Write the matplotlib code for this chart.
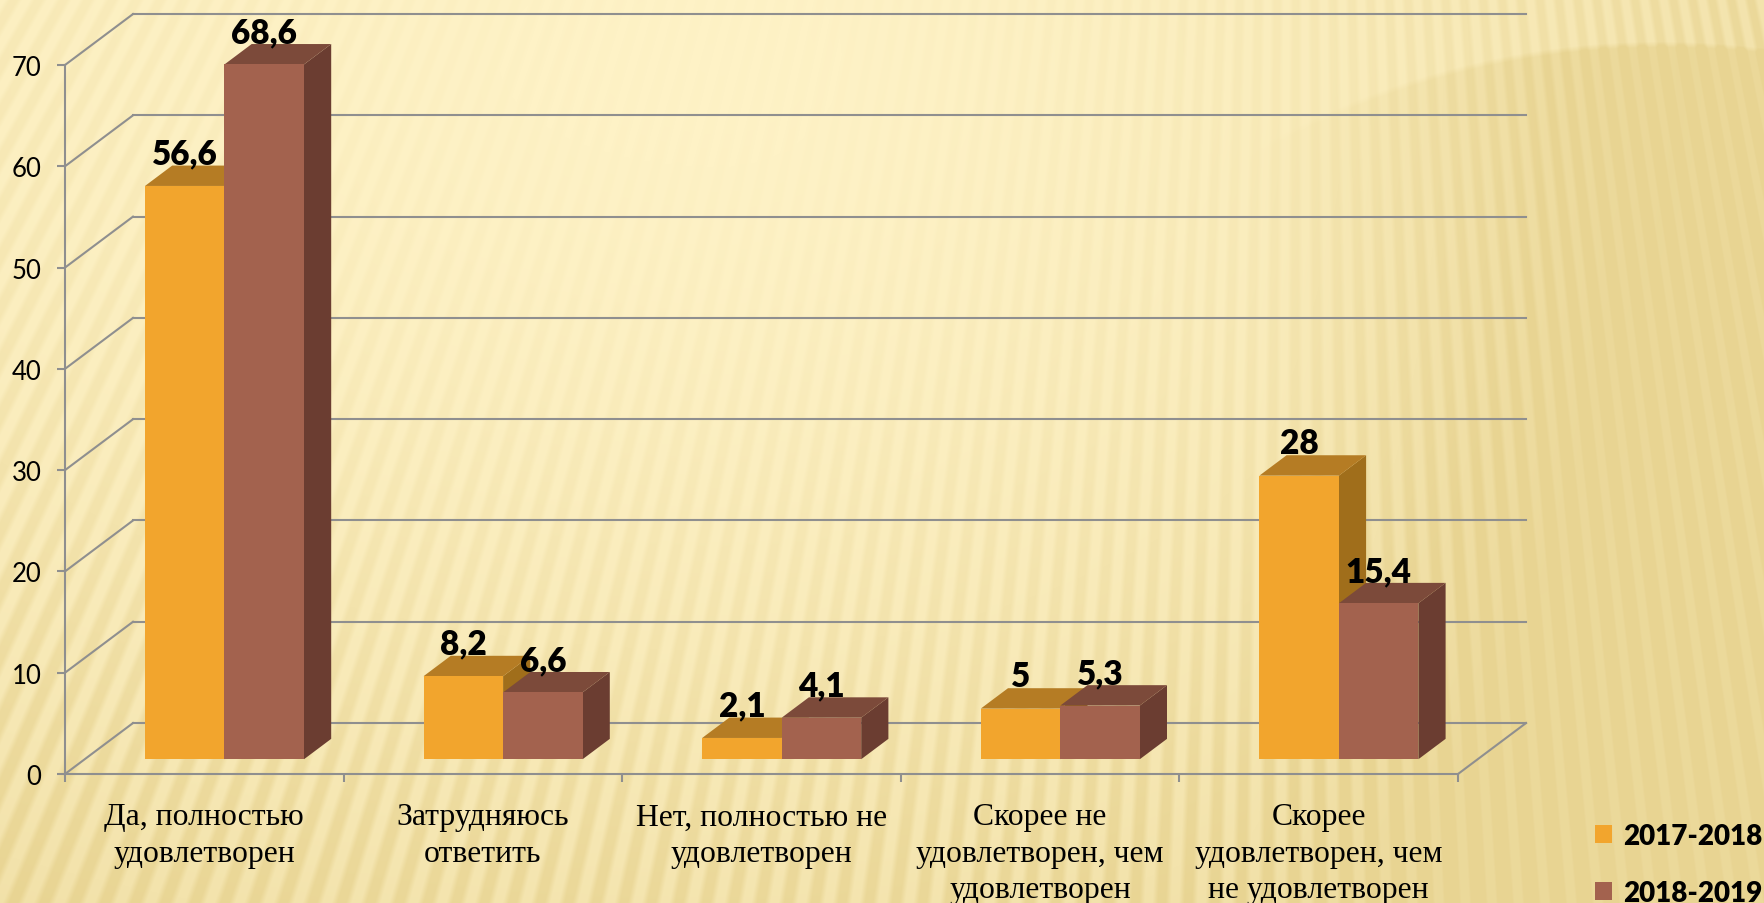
import numpy as np
import matplotlib
matplotlib.use("Agg")
import matplotlib.pyplot as plt
from matplotlib.patches import Polygon, Patch

# --- data ---
categories = [
    "Да, полностью\nудовлетворен",
    "Затрудняюсь\nответить",
    "Нет, полностью не\nудовлетворен",
    "Скорее не\nудовлетворен, чем\nудовлетворен",
    "Скорее\nудовлетворен, чем\nне удовлетворен",
]
series_names = ["2017-2018", "2018-2019"]
values_2017 = [56.6, 8.2, 2.1, 5, 28]
values_2018 = [68.6, 6.6, 4.1, 5.3, 15.4]
labels_2017 = ["56,6", "8,2", "2,1", "5", "28"]
labels_2018 = ["68,6", "6,6", "4,1", "5,3", "15,4"]
yticks = [0, 10, 20, 30, 40, 50, 60, 70]

W, H = 1764, 904
GREY = "#8f8f8f"

# colours of the box faces: front, top, side
orange = ("#f2a52d", "#b57c24", "#a06e1b")
brown = ("#a3624e", "#7c4a3a", "#6b3d31")

# oblique depth of the floor, in axis units
depth_x = 68 / 278.6
depth_y = 51 / 10.14


def make_background():
    # sun rays texture behind the chart
    yy, xx = np.mgrid[0:H, 0:W].astype(float)
    pale = np.array([254, 242, 198]) / 255
    tan = np.array([232, 212, 146]) / 255

    sx = np.where(xx < 720, 1700, 1150)
    d = np.sqrt(((xx - 720) / sx) ** 2 + ((yy - 60) / 950) ** 2)
    mix = np.clip(d, 0, 1) ** 1.7

    # big circle in the top right corner, fades out towards lower left
    circ = np.hypot(xx - 1660, yy - 860)
    inside = np.clip((818 - circ) / 6, 0, 1)
    fade = np.clip((xx - 1250) / 350, 0, 1)
    mix = np.clip(mix * 0.75 + 0.45 * inside * fade, 0, 1)

    # rays fan out from a point far above the picture
    theta = np.arctan2(xx - 1300, yy + 2200)
    wave = np.sin(theta * 2 * np.pi / 0.0085)
    wave = np.clip(wave * 1.6, -1, 1)
    dist = np.sqrt(((xx - 720) / 1150) ** 2 + ((yy - 60) / 800) ** 2)
    amp = 0.03 + 0.40 * np.clip(dist, 0, 1) ** 1.6
    mix = np.clip(mix - amp * 0.5 * (wave - 0.2), 0, 1)

    return pale[None, None, :] * (1 - mix[..., None]) + tan[None, None, :] * mix[..., None]


def draw_box(ax, x_left, width, value, colors, z):
    # front face sits a bit behind the front edge of the floor
    near = 0.29
    far = 0.69
    x0 = x_left + near * depth_x
    x1 = x0 + width
    y0 = near * depth_y
    y1 = y0 + value
    dx = (far - near) * depth_x
    dy = (far - near) * depth_y
    side = [(x1, y0), (x1 + dx, y0 + dy), (x1 + dx, y1 + dy), (x1, y1)]
    top = [(x0, y1), (x1, y1), (x1 + dx, y1 + dy), (x0 + dx, y1 + dy)]
    front = [(x0, y0), (x1, y0), (x1, y1), (x0, y1)]
    ax.add_patch(Polygon(side, closed=True, fc=colors[2], ec="none", zorder=z, clip_on=False))
    ax.add_patch(Polygon(top, closed=True, fc=colors[1], ec="none", zorder=z, clip_on=False))
    ax.add_patch(Polygon(front, closed=True, fc=colors[0], ec="none", zorder=z + 0.1, clip_on=False))
    return (x0 + width / 2, y1 + dy + 2 / 10.14)


fig = plt.figure(figsize=(W / 100, H / 100), dpi=100)

bg = fig.add_axes([0, 0, 1, 1], zorder=0)
bg.imshow(make_background(), aspect="auto", interpolation="bilinear")
bg.axis("off")

ax = fig.add_axes([65 / W, 1 - 775 / H, (1458 - 65) / W, (775 - 66) / H], zorder=1)
ax.patch.set_alpha(0)
ax.set_xlim(0, 5)
ax.set_ylim(0, 70)

for side in ["top", "right"]:
    ax.spines[side].set_visible(False)
for side in ["left", "bottom"]:
    ax.spines[side].set_color(GREY)
    ax.spines[side].set_linewidth(1.5)

ax.set_yticks(yticks)
ax.set_yticklabels([str(v) for v in yticks], fontsize=18.5, family="Lato", color="black")
ax.set_xticks(range(6))
ax.set_xticklabels([])
ax.tick_params(axis="both", which="major", color=GREY, width=1.5, length=6)
ax.tick_params(axis="y", pad=11)

ax.set_xticks(np.arange(5) + 0.5, minor=True)
ax.set_xticklabels(categories, minor=True, fontsize=22.8, family="Liberation Serif", linespacing=1.33)
ax.tick_params(axis="x", which="minor", length=0, pad=20.5)

# walls: side lines and back grid lines
for v in yticks:
    ax.plot([0, depth_x], [v, v + depth_y], color=GREY, lw=1.5, clip_on=False, zorder=2)
    ax.plot([depth_x, 5 + depth_x], [v + depth_y, v + depth_y], color=GREY, lw=1.5, clip_on=False, zorder=2)
ax.plot([5, 5 + depth_x], [0, depth_y], color=GREY, lw=1.5, clip_on=False, zorder=2)

bar_w = 79.5 / 278.6
first = 145 / 278.6 - 65 / 278.6 - 0.29 * depth_x
for i in range(5):
    lx, ly = draw_box(ax, i + first, bar_w, values_2017[i], orange, 3 + i)
    rx, ry = draw_box(ax, i + first + bar_w, bar_w, values_2018[i], brown, 3.5 + i)
    ax.text(lx, ly, labels_2017[i], ha="center", va="baseline", fontsize=24, fontweight="heavy",
            family="Lato", clip_on=False, zorder=20)
    ax.text(rx, ry, labels_2018[i], ha="center", va="baseline", fontsize=24, fontweight="heavy",
            family="Lato", clip_on=False, zorder=20)

handles = [Patch(fc=orange[0], ec="none"), Patch(fc=brown[0], ec="none")]
fig.legend(handles, series_names, loc="upper left", bbox_to_anchor=(1595 / W, 1 - 824 / H),
           frameon=False, borderpad=0, borderaxespad=0, handlelength=0.6, handleheight=0.6,
           handletextpad=0.4, labelspacing=1.1,
           prop={"family": "Lato", "weight": "heavy", "size": 20})

fig.savefig("out.png", dpi=100)
